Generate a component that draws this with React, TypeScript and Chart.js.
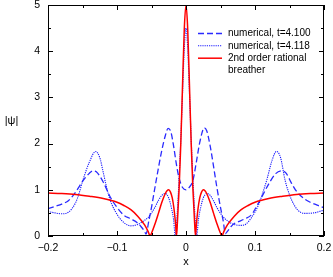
import React, { useEffect, useRef } from 'react';
import { Chart, registerables } from 'chart.js';

Chart.register(...registerables);

// 2nd order rational breather (red, solid)
const redX = [-0.2, -0.18, -0.16, -0.14, -0.12, -0.1, -0.09, -0.08, -0.07, -0.06, -0.055, -0.052, -0.05, -0.045, -0.04, -0.035, -0.03, -0.0275, -0.025, -0.0225, -0.02, -0.0175, -0.015, -0.0138, -0.0125, -0.01, -0.0075, -0.005, -0.0025, 0,
  0.0025, 0.005, 0.0075, 0.01, 0.0125, 0.0138, 0.015, 0.0175, 0.02, 0.0225, 0.025, 0.0275, 0.03, 0.035, 0.04, 0.045, 0.05, 0.052, 0.055, 0.06, 0.07, 0.08, 0.09, 0.1, 0.12, 0.14, 0.16, 0.18, 0.2];
const redY = [0.93, 0.92, 0.9, 0.86, 0.81, 0.73, 0.66, 0.57, 0.43, 0.24, 0.1, 0, 0.06, 0.26, 0.49, 0.73, 0.92, 0.98, 1.0, 0.95, 0.83, 0.6, 0.24, 0, 0.28, 1.02, 2.02, 3.27, 4.47, 5,
  4.47, 3.27, 2.02, 1.02, 0.28, 0, 0.24, 0.6, 0.83, 0.95, 1.0, 0.98, 0.92, 0.73, 0.49, 0.26, 0.06, 0, 0.1, 0.24, 0.43, 0.57, 0.66, 0.73, 0.81, 0.86, 0.9, 0.92, 0.93];

// numerical, t=4.100 (blue, dashed)
const dashX = [-0.2, -0.19, -0.18, -0.17, -0.16, -0.15, -0.14, -0.135, -0.13, -0.12, -0.11, -0.1, -0.09, -0.08, -0.07, -0.065, -0.06, -0.058, -0.054, -0.05, -0.045, -0.04, -0.035, -0.03, -0.026, -0.022, -0.018, -0.014, -0.01, -0.005, 0,
  0.005, 0.01, 0.015, 0.02, 0.0266, 0.03, 0.035, 0.04, 0.045, 0.05, 0.054, 0.057, 0.06, 0.065, 0.07, 0.076, 0.085, 0.095, 0.1, 0.11, 0.12, 0.13, 0.139, 0.145, 0.153, 0.16, 0.172, 0.18, 0.19, 0.2];
const dashY = [0.59, 0.64, 0.69, 0.77, 0.95, 1.18, 1.36, 1.41, 1.39, 1.17, 0.85, 0.62, 0.45, 0.37, 0.28, 0.2, 0.1, 0.04, 0.32, 0.62, 1.05, 1.47, 1.86, 2.17, 2.33, 2.26, 1.95, 1.56, 1.25, 1.05, 1.0,
  1.06, 1.2, 1.6, 2.03, 2.34, 2.28, 1.95, 1.5, 1.03, 0.62, 0.32, 0.05, 0.1, 0.2, 0.27, 0.31, 0.37, 0.46, 0.58, 0.85, 1.13, 1.35, 1.41, 1.36, 1.14, 0.97, 0.8, 0.73, 0.67, 0.61];

// numerical, t=4.118 (blue, dotted)
const dotX = [-0.2, -0.19, -0.18, -0.17, -0.16, -0.155, -0.15, -0.14, -0.131, -0.125, -0.12, -0.115, -0.11, -0.1, -0.09, -0.08, -0.07, -0.06, -0.055, -0.05, -0.045, -0.04, -0.035, -0.03, -0.025, -0.021, -0.018, -0.0155, -0.0125, -0.01, -0.0075, -0.005, -0.0025, 0,
  0.0025, 0.005, 0.0075, 0.01, 0.0125, 0.0155, 0.018, 0.021, 0.025, 0.03, 0.035, 0.04, 0.045, 0.05, 0.056, 0.065, 0.072, 0.08, 0.086, 0.095, 0.105, 0.11, 0.117, 0.125, 0.131, 0.137, 0.1435, 0.148, 0.153, 0.162, 0.172, 0.185, 0.2];
const dotY = [0.53, 0.5, 0.48, 0.52, 0.72, 0.92, 1.18, 1.6, 1.83, 1.7, 1.38, 1.05, 0.78, 0.47, 0.29, 0.22, 0.25, 0.34, 0.4, 0.5, 0.62, 0.77, 0.88, 0.92, 0.82, 0.6, 0.35, 0, 0.55, 1.25, 2.1, 3.1, 4.05, 4.5,
  4.05, 3.1, 2.1, 1.25, 0.55, 0, 0.35, 0.6, 0.82, 0.92, 0.88, 0.76, 0.61, 0.49, 0.38, 0.28, 0.24, 0.23, 0.25, 0.4, 0.67, 0.88, 1.21, 1.65, 1.83, 1.7, 1.21, 0.98, 0.78, 0.56, 0.49, 0.5, 0.56];

const xMajor = [-0.2, -0.1, 0, 0.1, 0.2];
const xMinor = [-0.15, -0.05, 0.05, 0.15];
const yMajor = [0, 1, 2, 3, 4, 5];
const yMinor = [0.5, 1.5, 2.5, 3.5, 4.5];

const legendLabels = ['numerical, t=4.100', 'numerical, t=4.118', '2nd order rational', 'breather'];

const FONT = '"Liberation Sans", Arial, Helvetica, sans-serif';
const BLUE_DASH = '#2a2aff';
const BLUE_DOT = '#1a1aff';
const RED = '#ff0000';

const zip = (xs: number[], ys: number[]) => xs.map((x, i) => ({ x, y: ys[i] }));

const decorPlugin = {
  id: 'decor',
  afterDatasetsDraw(chart: any) {
    const { ctx, chartArea: a, scales } = chart;
    const xs = scales.x;
    const ys = scales.y;
    ctx.save();
    ctx.strokeStyle = '#000';
    ctx.lineWidth = 1;
    ctx.setLineDash([]);
    ctx.strokeRect(a.left + 0.5, a.top + 0.5, a.right - a.left - 1, a.bottom - a.top - 1);
    ctx.beginPath();
    const tick = (v: number, len: number, axis: 'x' | 'y') => {
      if (axis === 'y') {
        const p = Math.round(ys.getPixelForValue(v)) + 0.5;
        ctx.moveTo(a.left, p); ctx.lineTo(a.left + len, p);
        ctx.moveTo(a.right, p); ctx.lineTo(a.right - len, p);
      } else {
        const p = Math.round(xs.getPixelForValue(v)) + 0.5;
        ctx.moveTo(p, a.bottom); ctx.lineTo(p, a.bottom - len);
        ctx.moveTo(p, a.top); ctx.lineTo(p, a.top + len);
      }
    };
    yMajor.forEach((v) => tick(v, 5, 'y'));
    yMinor.forEach((v) => tick(v, 3, 'y'));
    xMajor.forEach((v) => tick(v, 5, 'x'));
    xMinor.forEach((v) => tick(v, 3, 'x'));
    ctx.stroke();

    ctx.fillStyle = '#000';
    ctx.font = `11px ${FONT}`;
    ctx.textAlign = 'center';
    ctx.textBaseline = 'middle';
    ctx.fillText('|\u03C8|', 11.5, (a.top + a.bottom) / 2);
    ctx.fillText('x', (a.left + a.right) / 2, 262);

    const rows = [33.5, 45.8, 58.2, 70.5];
    const styles = [
      { color: BLUE_DASH, dash: [6, 3], width: 1.3 },
      { color: BLUE_DOT, dash: [1.2, 1], width: 1.1 },
      { color: RED, dash: [], width: 1.5 },
    ];
    styles.forEach((s, i) => {
      ctx.beginPath();
      ctx.strokeStyle = s.color;
      ctx.lineWidth = s.width;
      ctx.setLineDash(s.dash);
      ctx.moveTo(198, rows[i]);
      ctx.lineTo(222, rows[i]);
      ctx.stroke();
    });
    ctx.setLineDash([]);
    ctx.textAlign = 'left';
    ctx.font = `10px ${FONT}`;
    legendLabels.forEach((t, i) => ctx.fillText(t, 228, rows[i]));
    ctx.restore();
  },
};

export default function App() {
  const ref = useRef<HTMLCanvasElement | null>(null);
  useEffect(() => {
    if (!ref.current) return;
    const chart = new Chart(ref.current, {
      type: 'line',
      data: {
        datasets: [
          {
            label: '2nd order rational breather',
            data: zip(redX, redY),
            borderColor: RED,
            borderWidth: 1.5,
            pointRadius: 0,
            cubicInterpolationMode: 'monotone',
            fill: false,
          },
          {
            label: 'numerical, t=4.118',
            data: zip(dotX, dotY),
            borderColor: BLUE_DOT,
            borderWidth: 1.1,
            borderDash: [1.2, 1],
            pointRadius: 0,
            cubicInterpolationMode: 'monotone',
            fill: false,
          },
          {
            label: 'numerical, t=4.100',
            data: zip(dashX, dashY),
            borderColor: BLUE_DASH,
            borderWidth: 1.3,
            borderDash: [6, 3],
            pointRadius: 0,
            cubicInterpolationMode: 'monotone',
            fill: false,
          },
        ],
      },
      options: {
        animation: false,
        responsive: false,
        devicePixelRatio: 1,
        layout: { padding: { left: 0, right: 9, top: 5, bottom: 0 } },
        plugins: { legend: { display: false }, tooltip: { enabled: false }, title: { display: false } },
        scales: {
          x: {
            type: 'linear',
            min: -0.2,
            max: 0.2,
            grid: { display: false, drawTicks: false },
            border: { display: false },
            ticks: {
              stepSize: 0.1,
              padding: 6,
              color: '#000',
              font: { family: FONT, size: 10.5 },
              maxRotation: 0,
              callback: (v: any) => {
                const n = Number(v);
                if (Math.abs(n) < 1e-9) return '0';
                return (n < 0 ? '\u2212' : '') + Math.abs(n).toFixed(1);
              },
            },
            afterFit: (s: any) => { s.height = 41; s.paddingLeft = 0; s.paddingRight = 0; },
          },
          y: {
            type: 'linear',
            min: 0,
            max: 5,
            grid: { display: false, drawTicks: false },
            border: { display: false },
            ticks: {
              stepSize: 1,
              padding: 8,
              color: '#000',
              font: { family: FONT, size: 10.5 },
            },
            afterFit: (s: any) => { s.width = 48; s.paddingTop = 0; s.paddingBottom = 0; },
          },
        },
      } as any,
      plugins: [decorPlugin],
    });
    return () => chart.destroy();
  }, []);
  return (
    <div style={{ position: 'fixed', left: 0, top: 0, width: 333, height: 277, background: '#fff' }}>
      <canvas ref={ref} width={333} height={277} />
    </div>
  );
}
